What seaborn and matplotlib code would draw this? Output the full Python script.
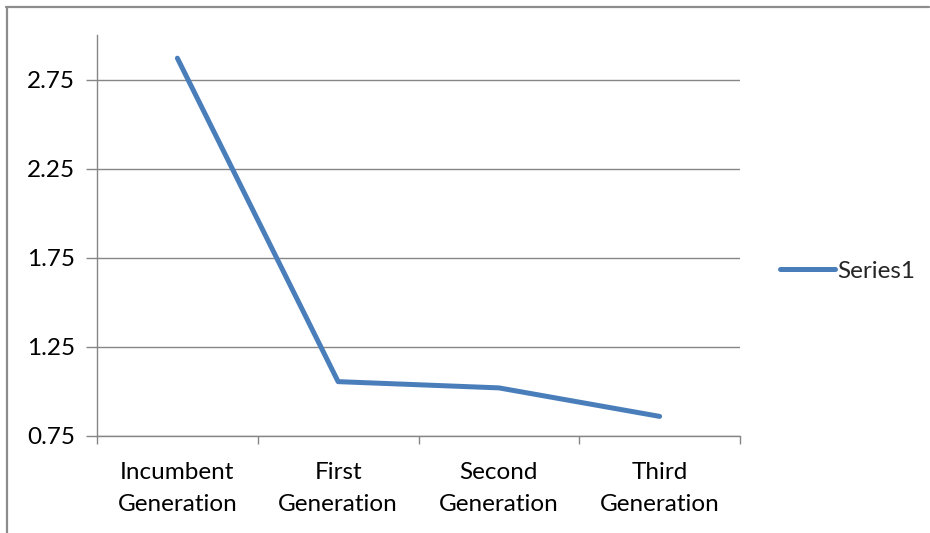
import matplotlib
matplotlib.use("Agg")
import matplotlib.pyplot as plt
from matplotlib.lines import Line2D
import numpy as np
import pandas as pd
import seaborn as sns

categories = ["Incumbent\nGeneration", "First\nGeneration", "Second\nGeneration", "Third\nGeneration"]
values = [2.87, 1.055, 1.02, 0.86]
series_name = "Series1"
y_ticks = [0.75, 1.25, 1.75, 2.25, 2.75]

sns.set_theme(style="white")
plt.rcParams["font.family"] = ["Lato", "DejaVu Sans"]

df = pd.DataFrame({"pos": np.arange(len(categories)), "value": values, "series": series_name})

fig = plt.figure(figsize=(9.30, 5.33), dpi=100)
ax = fig.add_axes([97 / 930, 1 - 436 / 533, (740 - 97) / 930, (436 - 35) / 533])

line_color = "#4A7EBB"
grid_color = "#868686"
font_size = 17.5

sns.lineplot(data=df, x="pos", y="value", ax=ax, color=line_color, linewidth=3.6,
             solid_capstyle="round", solid_joinstyle="round", legend=False)

ax.set_xlim(-0.5, len(categories) - 0.5)
ax.set_ylim(0.75, 3.0)
ax.set_yticks(y_ticks)
ax.set_yticklabels([f"{t:.2f}" for t in y_ticks])
ax.yaxis.grid(True, color=grid_color, linewidth=1.0)
ax.set_axisbelow(True)

# category labels centred, tick marks on category boundaries
ax.set_xticks(np.arange(len(categories)))
ax.set_xticklabels(categories, linespacing=1.6)
ax.set_xticks(np.arange(len(categories) + 1) - 0.5, minor=True)
ax.tick_params(axis="x", which="major", length=0, pad=19, labelsize=font_size, labelcolor="#000000")
ax.tick_params(axis="x", which="minor", length=6, width=1.0, color=grid_color, direction="out", bottom=True)
ax.tick_params(axis="y", which="major", length=8, width=1.0, color=grid_color, direction="out",
               left=True, pad=8, labelsize=font_size, labelcolor="#000000")

for side in ["top", "right"]:
    ax.spines[side].set_visible(False)
for side in ["left", "bottom"]:
    ax.spines[side].set_color(grid_color)
    ax.spines[side].set_linewidth(1.0)
ax.set_xlabel("")
ax.set_ylabel("")

handle = Line2D([], [], color=line_color, linewidth=3.6, solid_capstyle="round")
fig.legend([handle], [series_name], loc="center left", bbox_to_anchor=(780 / 930, 1 - 271 / 533),
           frameon=False, fontsize=font_size, handlelength=2.25, handletextpad=0.1, borderpad=0,
           borderaxespad=0)

# chart-area border (left and top edges)
fig.add_artist(Line2D([7 / 930, 7 / 930], [0, 1 - 6.5 / 533], color="#8c8c8c", linewidth=1.6,
                      transform=fig.transFigure))
fig.add_artist(Line2D([6.2 / 930, 929 / 930], [1 - 6.5 / 533, 1 - 6.5 / 533], color="#8c8c8c",
                      linewidth=1.6, transform=fig.transFigure))

fig.savefig("out.png", dpi=100)
